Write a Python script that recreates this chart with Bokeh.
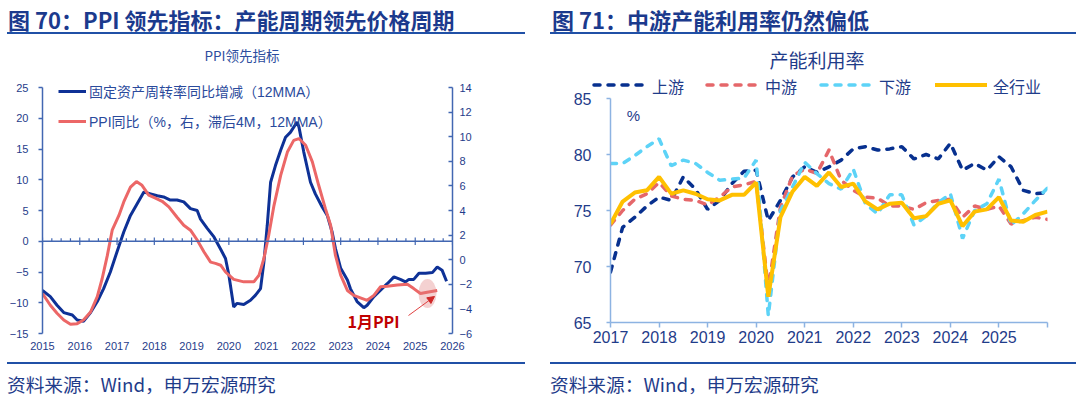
from bokeh.plotting import figure
from bokeh.models import (Range1d, LinearAxis, FixedTicker, Label, Arrow, NormalHead,
                          Legend, LegendItem, Span, Div)
from bokeh.layouts import row, column
from bokeh.embed import file_html
from bokeh.resources import INLINE

# ---------------- data: left chart (PPI leading indicator) ----------------
left_years = list(range(2015, 2027))
fa_x = [2015.00, 2015.21, 2015.39, 2015.57, 2015.80, 2015.93, 2016.10, 2016.29, 2016.47, 2016.64,
        2016.82, 2017.00, 2017.18, 2017.36, 2017.54, 2017.72, 2017.90, 2018.08, 2018.25, 2018.43,
        2018.61, 2018.79, 2018.97, 2019.15, 2019.24, 2019.42, 2019.60, 2019.78, 2019.91, 2020.00,
        2020.13, 2020.22, 2020.40, 2020.58, 2020.71, 2020.85, 2020.94, 2021.03, 2021.12, 2021.25,
        2021.39, 2021.52, 2021.65, 2021.83, 2021.88, 2022.01, 2022.19, 2022.32, 2022.50, 2022.64,
        2022.77, 2022.86, 2023.00, 2023.18, 2023.26, 2023.44, 2023.62, 2023.71, 2023.89, 2024.11,
        2024.25, 2024.43, 2024.60, 2024.74, 2024.83, 2024.96, 2025.10, 2025.28, 2025.46, 2025.59,
        2025.72, 2025.84]
fa_turnover = [-8.0, -9.0, -10.4, -11.6, -12.0, -12.8, -13.0, -11.6, -9.8, -7.7,
               -5.0, -1.7, 1.5, 4.2, 6.1, 8.0, 7.7, 7.4, 7.2, 6.7,
               6.7, 6.4, 5.3, 5.0, 3.6, 2.1, 0.7, -1.3, -2.8, -5.5,
               -10.7, -10.1, -10.3, -9.6, -8.8, -7.7, -3.4, 2.6, 9.6, 12.3,
               14.8, 16.9, 17.7, 19.4, 18.6, 14.5, 9.6, 7.7, 5.6, 4.2,
               1.5, -1.2, -4.4, -6.3, -7.7, -9.8, -10.8, -10.4, -9.0, -7.7,
               -6.9, -5.8, -6.2, -6.6, -6.2, -6.2, -5.2, -5.2, -5.1, -4.2,
               -4.7, -6.5]
ppi_x = [2015.00, 2015.21, 2015.39, 2015.57, 2015.75, 2015.93, 2016.10, 2016.29, 2016.47, 2016.60,
         2016.74, 2016.87, 2017.05, 2017.18, 2017.36, 2017.52, 2017.67, 2017.85, 2018.03, 2018.21,
         2018.39, 2018.61, 2018.79, 2018.97, 2019.15, 2019.33, 2019.51, 2019.64, 2019.78, 2019.91,
         2020.04, 2020.13, 2020.40, 2020.67, 2020.81, 2020.94, 2021.07, 2021.21, 2021.39, 2021.57,
         2021.74, 2021.88, 2022.06, 2022.24, 2022.41, 2022.59, 2022.73, 2022.86, 2023.00, 2023.18,
         2023.35, 2023.53, 2023.71, 2023.89, 2024.07, 2024.25, 2024.52, 2024.79, 2024.96, 2025.14,
         2025.32, 2025.59]
ppi_yoy = [-2.75, -3.7, -4.35, -4.9, -5.25, -5.2, -4.9, -4.25, -3.0, -1.55,
           0.35, 2.4, 3.6, 4.7, 5.9, 6.35, 6.05, 5.25, 5.0, 4.75,
           4.3, 3.45, 2.8, 2.4, 1.6, 0.65, -0.2, -0.3, -0.45, -1.0,
           -1.35, -1.6, -1.8, -1.8, -1.25, 0.1, 2.0, 4.4, 6.85, 8.75,
           9.7, 9.85, 9.3, 7.95, 6.05, 4.15, 2.8, 0.35, -1.25, -2.5,
           -2.9, -3.1, -3.3, -2.9, -2.2, -2.15, -2.05, -2.0, -2.35, -2.75,
           -2.65, -2.5]

# ---------------- data: right chart (capacity utilisation, %) ----------------
right_years = list(range(2017, 2027))
quarters = ["2016Q4"] + [f"{y}Q{q}" for y in range(2017, 2026) for q in range(1, 5)]
series_names = ["上游", "中游", "下游", "全行业"]
upstream = [69.5, 73.5, 74.4, 75.4, 76.2, 75.9, 78.0, 76.9, 75.1, 75.9,
            77.4, 78.5, 78.6, 74.1, 75.9, 78.0, 78.9, 78.4, 78.9, 79.5,
            80.5, 80.7, 80.4, 80.5, 80.7, 79.6, 80.0, 79.6, 81.0, 78.6,
            79.2, 78.6, 79.8, 78.9, 76.8, 76.5, 76.6]
midstream = [73.7, 75.0, 76.0, 76.5, 77.5, 76.3, 76.0, 75.9, 75.5, 76.2,
             77.1, 77.3, 77.6, 68.0, 75.3, 78.1, 78.7, 78.3, 80.4, 77.7,
             76.8, 76.2, 76.1, 75.4, 75.4, 75.1, 75.7, 75.9, 76.0, 74.4,
             75.4, 75.1, 75.4, 73.8, 74.1, 74.4, 74.2]
downstream = [79.2, 79.2, 79.9, 80.7, 81.4, 79.0, 79.5, 79.2, 78.4, 77.7,
              77.8, 77.9, 79.5, 65.6, 75.0, 77.1, 79.3, 78.3, 77.4, 76.9,
              78.7, 75.6, 74.7, 76.4, 76.4, 73.7, 74.5, 75.7, 76.5, 72.5,
              75.0, 75.6, 77.8, 73.7, 74.7, 75.9, 77.0]
all_industry = [73.8, 75.8, 76.6, 76.8, 78.0, 76.5, 76.8, 76.5, 76.0, 75.9,
                76.4, 76.4, 77.5, 67.3, 74.4, 76.7, 78.0, 77.2, 78.4, 77.1,
                77.4, 75.8, 75.1, 75.6, 75.7, 74.3, 74.5, 75.6, 75.9, 73.6,
                74.9, 75.1, 76.2, 74.1, 74.0, 74.6, 74.9]
quarter_x = [int(s[:4]) + int(s[5]) / 4 for s in quarters]

# ---------------- styling ----------------
CJK = "Noto Sans CJK SC"
MIX = "Liberation Sans, Noto Sans CJK SC"
LAT = "Liberation Sans"
TITLE_C = "#1B3A8D"
RULE_C = "#2050A6"
TXT_C = "#1F3C8A"
AX_L = "#4267B2"
AX_R = "#8DB3E2"
BLUE = "#0E3196"
RED = "#EC6767"
R_COLORS = ["#07308F", "#E5676A", "#5DD3F7", "#FFC000"]
R_DASH = ["6 8", "6 8", "6 8", None]
PW = 540           # panel width
L_TOP = 76         # left header height
R_TOP = 90         # right header height
BOT_H = 37         # footer height
L_FIG_H = 395 - L_TOP - BOT_H
R_FIG_H = 395 - R_TOP - BOT_H


def LX(rx):
    return 2015 + (rx - 42) * 11 / 410


def LY(ry):
    return 25 - (ry - 87) * 40 / 246


def RX(rx):
    return 2017 + (rx - 610) * 9 / 437


def RY(ry):
    return 85 - (ry - 98) * 20 / 224


def label(p, x, y, text, size, color=TXT_C, font=MIX, bold=False, align="left"):
    p.add_layout(Label(x=x, y=y, text=text, text_font=font, text_font_size=size,
                       text_color=color, text_font_style="bold" if bold else "normal",
                       text_align=align, text_baseline="middle"))


def header(height, title, tx, rx0, rx1, sub, sub_cx, sub_cy, sub_size, sub_color, extra=""):
    html = (
        f'<div style="position:relative;width:{PW}px;height:{height}px;">'
        f'<div style="position:absolute;left:{tx}px;top:8px;white-space:nowrap;'
        f"font-family:'Noto Sans CJK SC';font-weight:bold;font-size:22px;line-height:22px;"
        f'color:{TITLE_C};">{title}</div>'
        f'<div style="position:absolute;left:{rx0}px;top:32px;width:{rx1 - rx0}px;height:2px;'
        f'background:{RULE_C};"></div>'
        f'<div style="position:absolute;left:{sub_cx - 120}px;width:240px;top:{sub_cy - 10}px;'
        f"text-align:center;white-space:nowrap;font-family:'Noto Sans CJK SC';"
        f'font-size:{sub_size}px;line-height:20px;color:{sub_color};">{sub}</div>'
        f'{extra}</div>')
    return Div(text=html, width=PW, height=height, margin=0, styles={"overflow": "visible"})


def footer(tx, rx0, rx1):
    html = (
        f'<div style="position:relative;width:{PW}px;height:{BOT_H}px;">'
        f'<div style="position:absolute;left:{rx0}px;top:4px;width:{rx1 - rx0}px;height:2px;'
        f'background:{RULE_C};"></div>'
        f'<div style="position:absolute;left:{tx}px;top:15px;white-space:nowrap;'
        f"font-family:'Noto Sans CJK SC';font-size:18.7px;line-height:21px;color:{TXT_C};\">"
        '资料来源：Wind，申万宏源研究</div>'
        '</div>')
    return Div(text=html, width=PW, height=BOT_H, margin=0, styles={"overflow": "visible"})


def style_axis(ax, color, size, tick_out, tick_in, standoff, font=LAT):
    ax.axis_line_color = color
    ax.axis_line_width = 1.5
    ax.major_tick_line_color = color
    ax.major_tick_line_width = 1.5
    ax.major_tick_out = tick_out
    ax.major_tick_in = tick_in
    ax.minor_tick_line_color = None
    ax.major_label_text_font = font
    ax.major_label_text_font_size = size
    ax.major_label_text_color = TXT_C
    ax.major_label_standoff = standoff


# ================= left figure =================
# frame: x 42..452, y 76 .. 333 (page px); y=25 sits at page y 87
l_top = 25 + (87 - L_TOP) * 40 / 246
pL = figure(width=PW, height=L_FIG_H, output_backend="svg", toolbar_location=None, title=None,
            x_range=Range1d(2015, 2026), y_range=Range1d(-15, l_top), frame_align=False,
            min_border_left=42, min_border_right=88, min_border_top=0, min_border_bottom=25)
pL.outline_line_color = None
pL.grid.visible = False

ya = pL.yaxis[0]
ya.ticker = FixedTicker(ticks=list(range(-15, 30, 5)))
ya.bounds = (-15, 25)
style_axis(ya, AX_L, "11px", 4, 0, 10)

pL.extra_y_ranges = {"ppi": Range1d(-6, l_top / 2 + 1.5)}
ra = LinearAxis(y_range_name="ppi", ticker=FixedTicker(ticks=list(range(-6, 16, 2))),
                bounds=(-6, 14))
style_axis(ra, AX_L, "11px", 0, 4, 7)
pL.add_layout(ra, "right")

xa = pL.xaxis[0]
xa.ticker = FixedTicker(ticks=left_years)
style_axis(xa, AX_L, "11px", 0, 0, 8)
xa.axis_line_color = None
xa.major_tick_line_color = None

# zero line acting as the category axis, with quarterly ticks
pL.add_layout(Span(location=0, dimension="width", line_color=AX_L, line_width=1.5))
qt = [left_years[0] + k / 4 for k in range(4 * (left_years[-1] - left_years[0]) + 1)]
minor_q = [q for q in qt if q != int(q)]
major_q = [q for q in qt if q == int(q)]
pL.segment(x0=minor_q, x1=minor_q, y0=[0] * len(minor_q), y1=[0.5] * len(minor_q),
           line_color=AX_L, line_width=1.2)
pL.segment(x0=major_q, x1=major_q, y0=[-0.6] * len(major_q), y1=[0.6] * len(major_q),
           line_color=AX_L, line_width=1.2)

rb = pL.line(fa_x, fa_turnover, line_color=BLUE, line_width=3)
rr = pL.line(ppi_x, ppi_yoy, y_range_name="ppi", line_color=RED, line_width=3)

pL.ellipse(x=LX(427), y=LY(293), width=18 * 11 / 410, height=29 * 40 / 246,
           fill_color="#E07A7A", fill_alpha=0.35, line_color=None)
pL.add_layout(Arrow(end=NormalHead(size=7, fill_color="#D02828", line_color="#D02828"),
                    x_start=LX(408), y_start=LY(315), x_end=LX(434), y_end=LY(296),
                    line_color="#E04040", line_width=1))
label(pL, LX(347), LY(320), "1月PPI", "16px", color="#C00000", font=CJK, bold=True)

legL = Legend(items=[LegendItem(label="固定资产周转率同比增减（12MMA）", renderers=[rb]),
                     LegendItem(label="PPI同比（%，右，滞后4M，12MMA）", renderers=[rr])],
              location=(16, 202), orientation="vertical", glyph_width=28, glyph_height=20,
              label_height=20, label_standoff=3, spacing=10, padding=0, margin=0,
              border_line_color=None, background_fill_alpha=0,
              label_text_font=MIX, label_text_font_size="14px", label_text_color="#2A4A9C")
pL.add_layout(legL)

# ================= right figure =================
# frame: x 610..1047, y 98..322 (page px)
pR = figure(width=PW, height=R_FIG_H, output_backend="svg", toolbar_location=None, title=None,
            x_range=Range1d(2017, 2026), y_range=Range1d(65, 85), frame_align=False,
            min_border_left=70, min_border_right=33, min_border_top=98 - R_TOP,
            min_border_bottom=36)
pR.outline_line_color = None
pR.grid.visible = False
pR.border_fill_color = None

yr = pR.yaxis[0]
yr.ticker = FixedTicker(ticks=list(range(65, 90, 5)))
style_axis(yr, AX_R, "16px", 4, 0, 15)

xr = pR.xaxis[0]
xr.ticker = FixedTicker(ticks=right_years)
xr.major_label_overrides = {y: (str(y) if y < right_years[-1] else "") for y in right_years}
style_axis(xr, AX_R, "16px", 5, 0, 3)

for vals, col, dash in zip([upstream, midstream, downstream, all_industry], R_COLORS, R_DASH):
    if dash:
        pR.line(quarter_x, vals, line_color=col, line_width=3.5, line_dash=dash, line_cap="round")
    else:
        pR.line(quarter_x, vals, line_color=col, line_width=4)

label(pR, RX(633), RY(115), "%", "15px", color=TXT_C, font=LAT, align="center")

# legend for the right chart (sits above the plot frame, left of the y axis)
leg_glyph_x = [52, 165, 279, 393]   # px from panel left
leg_html = ""
for name, col, dash, gx in zip(series_names, R_COLORS, R_DASH, leg_glyph_x):
    dash_attr = f' stroke-dasharray="{dash}" stroke-linecap="round"' if dash else ""
    sw = 3.5 if dash else 4
    leg_html += (
        f'<svg style="position:absolute;left:{gx}px;top:80px;" width="56" height="10">'
        f'<line x1="2" y1="5" x2="54" y2="5" stroke="{col}" stroke-width="{sw}"{dash_attr}/></svg>'
        f'<div style="position:absolute;left:{gx + 60}px;top:77px;white-space:nowrap;'
        f"font-family:'Noto Sans CJK SC';font-size:16px;line-height:18px;color:{TXT_C};\">"
        f'{name}</div>')

# ================= header / footer strips =================
hL = header(L_TOP, "图 70：PPI 领先指标：产能周期领先价格周期", 8, 7, 525,
            "PPI领先指标", 242, 55, 13.5, "#2D4D9E")
hR = header(R_TOP, "图 71：中游产能利用率仍然偏低", 12, 10, 536,
            "产能利用率", 277, 60, 19, TXT_C, extra=leg_html)
fL = footer(7, 7, 525)
fR = footer(10, 10, 536)

layout = row(column(hL, pL, fL), column(hR, pR, fR))
open("out.html", "w").write(file_html(layout, INLINE))
